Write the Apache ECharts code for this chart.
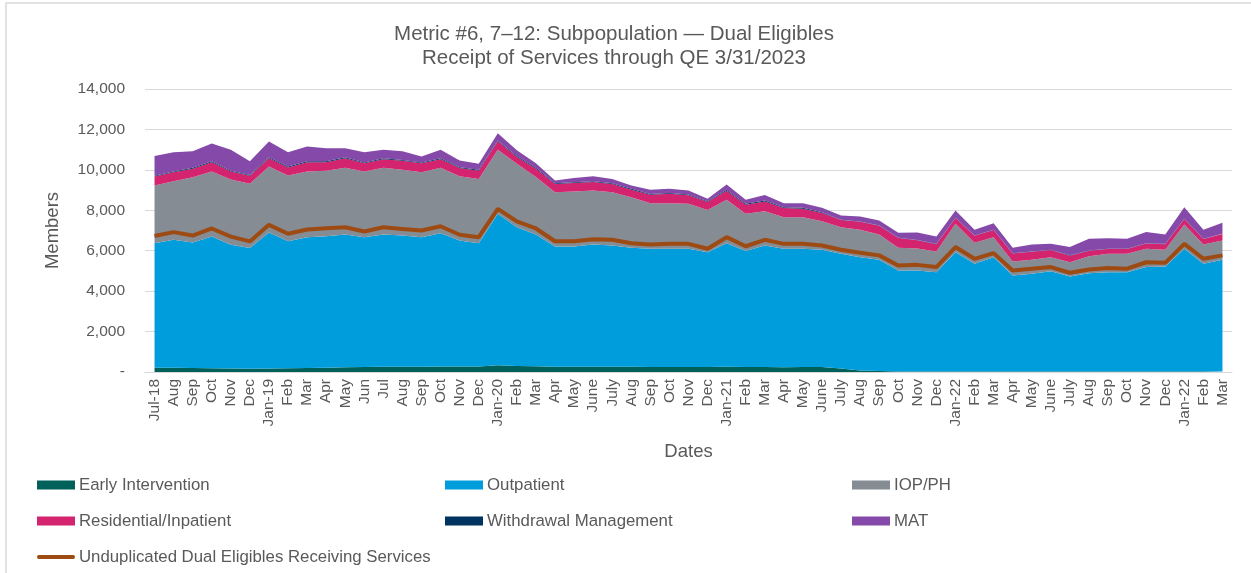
<!DOCTYPE html>
<html>
<head>
<meta charset="utf-8">
<script src="https://cdn.jsdelivr.net/npm/echarts@6/dist/echarts.min.js"></script>
<style>
  html, body { margin: 0; padding: 0; background: #fff; }
  #chart { width: 1251px; height: 573px; }
</style>
</head>
<body>
<div id="chart"></div>
<script>
// month labels, Jul-18 .. Mar-23
var months = ["Jul-18","Aug","Sep","Oct","Nov","Dec",
  "Jan-19","Feb","Mar","Apr","May","Jun","Jul","Aug","Sep","Oct","Nov","Dec",
  "Jan-20","Feb","Mar","Apr","May","June","July","Aug","Sep","Oct","Nov","Dec",
  "Jan-21","Feb","Mar","Apr","May","June","July","Aug","Sep","Oct","Nov","Dec",
  "Jan-22","Feb","Mar","Apr","May","June","July","Aug","Sep","Oct","Nov","Dec",
  "Jan-22","Feb","Mar"];

var earlyIntervention = [210,210,200,190,170,160,170,190,200,210,230,250,260,260,260,270,270,270,
  330,300,280,260,260,260,260,260,250,250,250,250,260,250,250,240,250,250,170,80,50,30,25,20,
  20,20,20,20,20,20,20,20,20,20,20,20,20,20,20];
var outpatient = [6160,6330,6210,6510,6120,5970,6730,6280,6470,6510,6570,6420,6540,6490,6410,6600,6240,6100,
  7500,6860,6520,5950,5950,6050,6000,5890,5850,5850,5850,5680,6110,5730,6010,5860,5850,5800,5680,5600,5500,4990,5000,4920,
  5910,5340,5660,4760,4840,4960,4710,4870,4920,4920,5170,5200,6080,5340,5530];
var iopPh = [2850,2900,3220,3220,3230,3180,3260,3250,3250,3240,3300,3250,3300,3250,3210,3230,3170,3180,
  3160,3140,2850,2680,2720,2670,2630,2500,2250,2250,2220,2090,2150,1850,1690,1560,1560,1410,1310,1360,1250,1130,1080,1020,
  1400,1030,990,690,690,700,700,840,910,910,910,830,1200,950,960];
var residential = [450,440,430,460,400,400,420,400,460,420,480,410,430,450,450,430,410,410,
  420,340,410,410,420,420,410,370,420,470,420,390,450,450,490,450,420,400,355,395,435,475,415,365,
  285,345,355,395,395,355,325,265,235,235,255,275,265,265,315];
var withdrawal = [40,40,40,40,40,40,40,40,40,40,40,40,40,40,40,40,40,40,
  40,40,40,40,40,40,40,40,40,40,40,40,40,40,40,40,40,40,15,15,15,15,15,15,
  15,15,15,15,15,15,15,15,15,15,15,15,15,15,15];
var mat = [980,950,820,890,1030,670,780,710,740,650,450,500,420,430,290,420,330,300,
  360,290,230,130,210,240,210,160,200,200,200,120,260,200,280,200,230,220,210,240,240,250,360,360,
  360,290,320,270,350,290,410,580,520,490,550,460,570,450,540];
var unduplicated = [6730,6920,6750,7100,6700,6460,7280,6840,7050,7110,7160,6950,7160,7080,7000,7210,6790,6670,
  8070,7450,7100,6470,6470,6570,6540,6370,6310,6340,6340,6100,6670,6220,6540,6340,6340,6260,6050,5900,5770,5270,5300,5190,
  6180,5600,5880,5020,5110,5190,4910,5070,5140,5110,5430,5400,6340,5600,5770];

var textColor = "#595959";
var font = "'Liberation Sans', Arial, sans-serif";

function areaSeries(name, data, color) {
    return {
        name: name,
        type: "line",
        stack: "total",
        data: data,
        symbol: "none",
        lineStyle: { width: 0 },
        areaStyle: { color: color, opacity: 1 },
        itemStyle: { color: color },
        emphasis: { disabled: true }
    }
}

function legendBlock(left, items) {
    return {
        orient: "vertical",
        left: left,
        top: 476,
        height: 100,
        padding: 0,
        itemWidth: 38,
        itemHeight: 9,
        itemGap: 18,
        selectedMode: false,
        textStyle: { color: textColor, fontSize: 16.8, fontFamily: font, lineHeight: 18, padding: [0, 0, 0, -1] },
        data: items
    }
}

// thin band inside a 38x9 box, for the line swatch
var lineIcon = "path://M0,0 M38,9 M1,2.5 L37,2.5 A2,2 0 0 1 37,6.5 L1,6.5 A2,2 0 0 1 1,2.5 Z";

var chart = echarts.init(document.getElementById("chart"));
chart.setOption({
    animation: false,
    textStyle: { fontFamily: font },
    graphic: [{
        type: "rect",
        shape: { x: 6, y: 3, width: 1400, height: 700 },
        style: { fill: "none", stroke: "#d9d9d9", lineWidth: 1.5 },
        silent: true
    }],
    title: {
        text: "Metric #6, 7\u201312: Subpopulation \u2014 Dual Eligibles\nReceipt of Services through QE 3/31/2023",
        left: 609,
        top: 17,
        textAlign: "center",
        textStyle: { color: textColor, fontSize: 20.5, fontWeight: "normal", fontFamily: font, lineHeight: 24 }
    },
    legend: [
        legendBlock(37, [
            { name: "Early Intervention", icon: "rect" },
            { name: "Residential/Inpatient", icon: "rect" },
            { name: "Unduplicated Dual Eligibles Receiving Services", icon: lineIcon }
        ]),
        legendBlock(445, [
            { name: "Outpatient", icon: "rect" },
            { name: "Withdrawal Management", icon: "rect" }
        ]),
        legendBlock(852, [
            { name: "IOP/PH", icon: "rect" },
            { name: "MAT", icon: "rect" }
        ])
    ],
    grid: { left: 145, right: 19, top: 89, bottom: 201 },
    xAxis: {
        type: "category",
        data: months,
        boundaryGap: true,
        name: "Dates",
        nameLocation: "middle",
        nameGap: 70,
        nameTextStyle: { color: textColor, fontSize: 18.5, fontFamily: font },
        axisLine: { lineStyle: { color: "#d9d9d9" } },
        axisTick: { show: false },
        axisLabel: { rotate: 90, interval: 0, color: textColor, fontSize: 15.5, fontFamily: font, margin: 7 }
    },
    yAxis: {
        type: "value",
        min: 0,
        max: 14000,
        interval: 2000,
        name: "Members",
        nameLocation: "middle",
        nameGap: 83,
        nameTextStyle: { color: textColor, fontSize: 18.5, fontFamily: font },
        axisLine: { show: false },
        axisTick: { show: false },
        splitLine: { lineStyle: { color: "#d9d9d9" } },
        axisLabel: {
            color: textColor, fontSize: 15.5, fontFamily: font, margin: 20,
            formatter: function(v) { return v === 0 ? "-" : v.toLocaleString("en-US") }
        }
    },
    series: [
        areaSeries("Early Intervention", earlyIntervention, "#00605a"),
        areaSeries("Outpatient", outpatient, "#009ddd"),
        areaSeries("IOP/PH", iopPh, "#868c94"),
        areaSeries("Residential/Inpatient", residential, "#d4236f"),
        areaSeries("Withdrawal Management", withdrawal, "#00335f"),
        areaSeries("MAT", mat, "#8549aa"),
        {
            name: "Unduplicated Dual Eligibles Receiving Services",
            type: "line",
            data: unduplicated,
            symbol: "none",
            z: 5,
            lineStyle: { color: "#9e4a13", width: 4 },
            itemStyle: { color: "#9e4a13" },
            emphasis: { disabled: true }
        }
    ]
});
</script>
</body>
</html>
